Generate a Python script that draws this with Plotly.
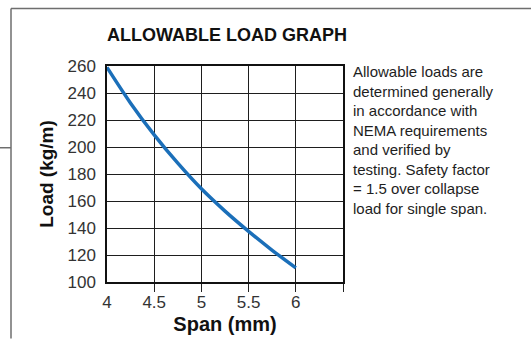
import plotly.graph_objects as go

# Span (mm) vs allowable load (kg/m)
span_mm = [4.0, 4.25, 4.5, 4.75, 5.0, 5.25, 5.5, 5.75, 6.0]
load_kg_m = [259, 232.5, 209, 188, 169, 152.5, 137.5, 123.5, 110.5]

x_tick_vals = [4, 4.5, 5, 5.5, 6]
x_tick_text = ["4", "4.5", "5", "5.5", "6"]
x_minor_ticks = [4.5, 5, 5.5, 6, 6.5]
y_tick_vals = [100, 120, 140, 160, 180, 200, 220, 240, 260]

note_lines = [
    "Allowable loads are",
    "determined generally",
    "in accordance with",
    "NEMA requirements",
    "and verified by",
    "testing. Safety factor",
    "= 1.5 over collapse",
    "load for single span.",
]

W, H = 531, 344
L, R, T, B = 107, 188, 66, 56
PW, PH = W - L - R, H - T - B

BOLD = "Liberation Sans, Arial, Helvetica, sans-serif"
REG = "Liberation Sans, Arial, Helvetica, sans-serif"


def px_x(p):
    return (p - L) / PW


def px_y(p):
    return (H - B - p) / PH


fig = go.Figure()
fig.add_trace(go.Scatter(
    x=span_mm, y=load_kg_m, mode="lines",
    line=dict(color="#1b6fb9", width=3.5, shape="spline", smoothing=1.0),
    hoverinfo="x+y", showlegend=False,
))

frame = dict(color="#6e6e6e", width=1.5)
fig.add_shape(type="line", xref="paper", yref="paper",
              x0=px_x(11), x1=px_x(W + 2), y0=px_y(7), y1=px_y(7), line=frame)
fig.add_shape(type="line", xref="paper", yref="paper",
              x0=px_x(11), x1=px_x(11), y0=px_y(7), y1=px_y(H + 2), line=frame)
fig.add_shape(type="line", xref="paper", yref="paper",
              x0=px_x(-2), x1=px_x(11), y0=px_y(150), y1=px_y(150), line=frame)

fig.add_annotation(
    xref="paper", yref="paper", x=px_x(351), y=px_y(61),
    xanchor="left", yanchor="top", align="left", showarrow=False,
    text="<br>".join(note_lines),
    font=dict(family=REG, size=15, color="#1e1e1e"),
)

fig.update_layout(
    width=W, height=H,
    margin=dict(l=L, r=R, t=T, b=B),
    paper_bgcolor="white", plot_bgcolor="white",
    title=dict(
        text="<b>ALLOWABLE LOAD GRAPH</b>",
        xref="paper", x=0.0, xanchor="left",
        yref="container", y=1 - 35 / H, yanchor="middle",
        font=dict(family=BOLD, size=18, color="#111"),
    ),
    xaxis=dict(
        range=[4, 6.5], tickvals=x_tick_vals, ticktext=x_tick_text,
        ticks="", showgrid=True, gridcolor="#1e1e1e", gridwidth=1,
        showline=True, linecolor="#111", linewidth=1.5, mirror=True,
        zeroline=False,
        minor=dict(tickvals=x_minor_ticks, ticks="outside", ticklen=8,
                   tickcolor="#222", tickwidth=1, showgrid=False),
        tickfont=dict(family=REG, size=17, color="#333"),
        ticklabelstandoff=4,
        title=dict(text="<b>Span (mm)</b>", standoff=6,
                   font=dict(family=BOLD, size=20, color="#111")),
    ),
    yaxis=dict(
        range=[100, 260], tickvals=y_tick_vals,
        ticks="", showgrid=True, gridcolor="#1e1e1e", gridwidth=1,
        showline=True, linecolor="#111", linewidth=1.5, mirror=True,
        zeroline=False,
        tickfont=dict(family=REG, size=17, color="#333"),
        ticklabelstandoff=6,
        title=dict(text="<b>Load (kg/m)</b>", standoff=9,
                   font=dict(family=BOLD, size=19, color="#111")),
    ),
)

fig.write_html("out.html")
